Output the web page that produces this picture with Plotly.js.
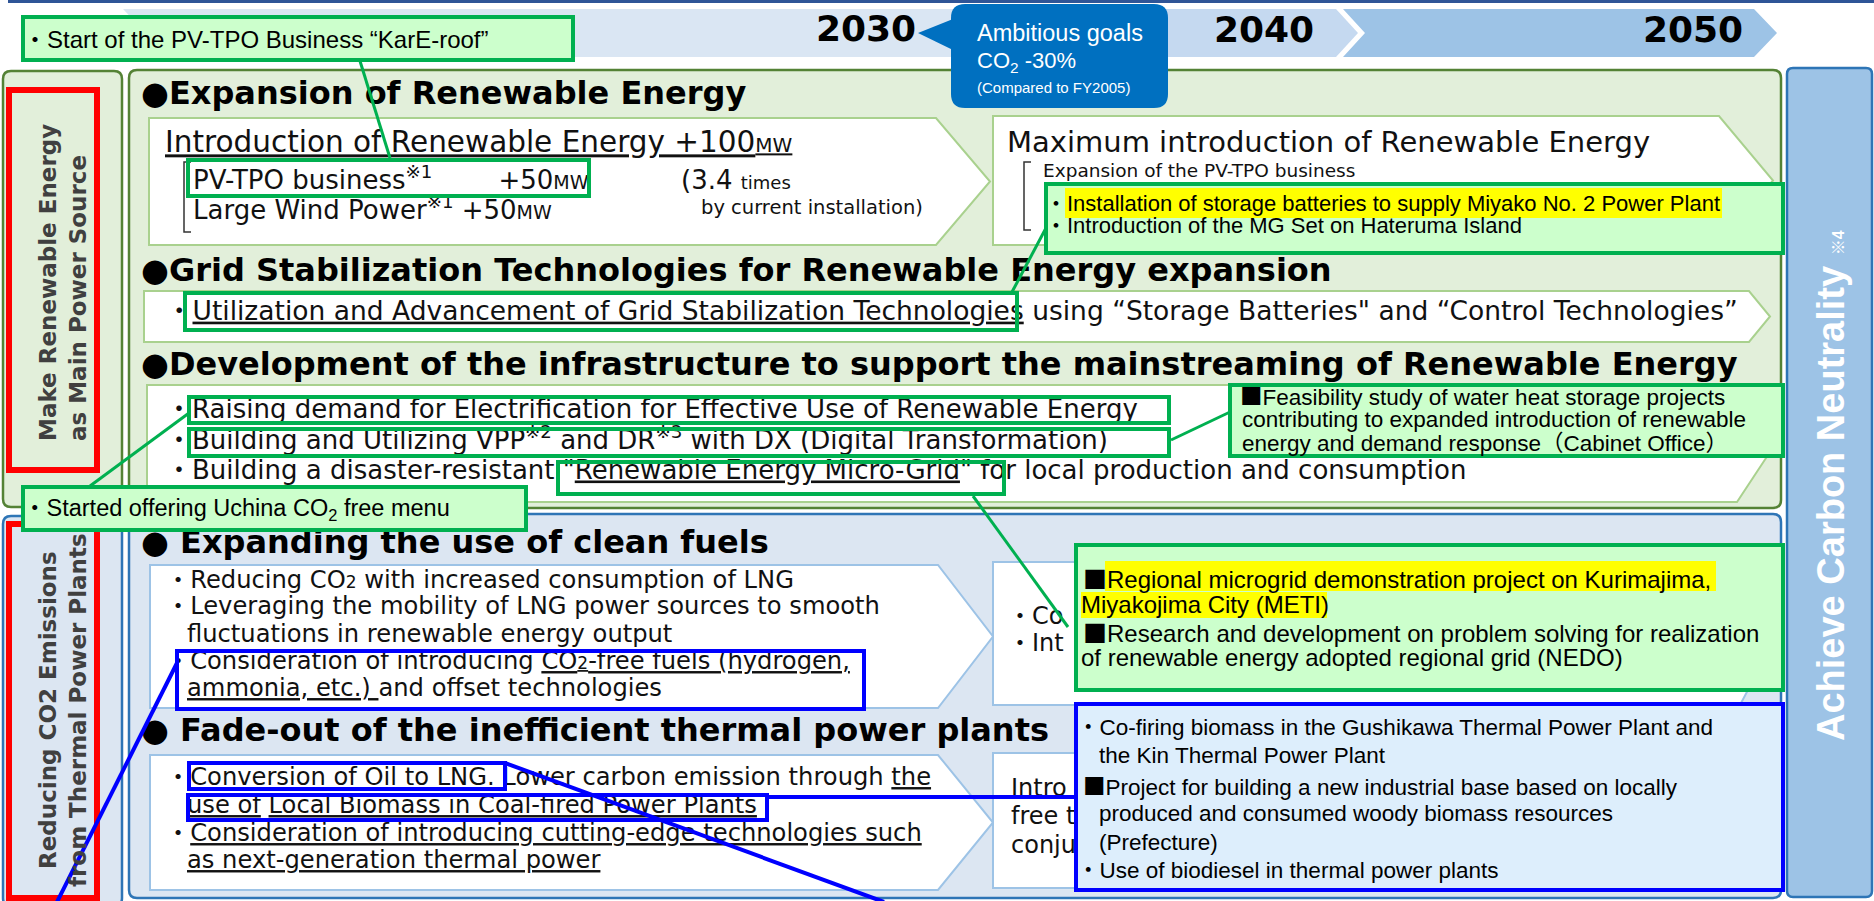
<!DOCTYPE html>
<html><head><meta charset="utf-8">
<script src="https://cdn.plot.ly/plotly-3.0.1.min.js"></script>
<style>html,body{margin:0;padding:0;background:#fff;overflow:hidden}#chart{width:1874px;height:901px}</style>
</head><body><div id="chart"></div>
<script>
// ================= CONTENT (text data) =================
const SQ = '<span style="font-family:Noto Sans CJK JP">■</span>';
const years = ['2030', '2040', '2050'];
const goalText = ['Ambitious goals', 'CO<sub>2</sub> -30%', '(Compared to FY2005)'];
const sideLabels = [
  'Make Renewable Energy<br>as Main Power Source',
  'Reducing CO2 Emissions<br>from Thermal Power Plants',
  'Achieve Carbon Neutrality <span style="font-size:16px">※4</span>'
];
const headings = [
  '●Expansion of Renewable Energy',
  '●Grid Stabilization Technologies for Renewable Energy expansion',
  '●Development of the infrastructure to support the mainstreaming of Renewable Energy',
  '● Expanding the use of clean fuels',
  '● Fade-out of the inefficient thermal power plants'
];
const renewable2030 = [
  '<u>Introduction of Renewable Energy +100<span style="font-size:20px">MW</span></u>',
  'PV-TPO business<sup>※1</sup>\u00a0\u00a0\u00a0\u00a0\u00a0\u00a0\u00a0\u00a0+50<span style="font-size:19px">MW</span>',
  'Large Wind Power<sup>※1</sup>\u00a0+50<span style="font-size:19px">MW</span>',
  '(3.4 <span style="font-size:18px">times</span>',
  'by current installation)'
];
const renewable2040 = ['Maximum introduction of Renewable Energy', 'Expansion of the PV-TPO business'];
const gridLines = ['・<u>Utilization and Advancement of Grid Stabilization Technologies</u> using “Storage Batteries" and “Control Technologies”'];
const infraLines = [
  '・Raising demand for Electrification for Effective Use of Renewable Energy',
  '・Building and Utilizing VPP<sup>※2</sup> and DR<sup>※3</sup> with DX (Digital Transformation)',
  '・Building a disaster-resistant "<u>Renewable Energy Micro-Grid</u>" for local production and consumption'
];
const cleanFuelLines = [
  '・Reducing CO<span style="font-size:17px">2</span> with increased consumption of LNG',
  '・Leveraging the mobility of LNG power sources to smooth',
  'fluctuations in renewable energy output',
  '・Consideration of introducing <u>CO<span style="font-size:17px">2</span>-free fuels (hydrogen,</u>',
  '<u>ammonia, etc.)\u00a0</u>and offset technologies'
];
const cleanFuel2040 = ['・Co', '・Int'];
const fadeOutLines = [
  '・<u>Conversion of Oil to LNG.</u> Lower carbon emission through <u>the</u>',
  '<u>use of</u> <u>Local Biomass in Coal-fired Power Plants</u>',
  '・<u>Consideration of introducing cutting-edge technologies such</u>',
  '<u>as next-generation thermal power</u>'
];
const fadeOut2040 = ['Intro', 'free t', 'conju'];
const noteKarE = ['・Start of the PV-TPO Business “KarE-roof”'];
const noteUchina = ['・Started offering Uchina CO<sub>2</sub> free menu'];
const noteStorage = [
  '・Installation of storage batteries to supply Miyako No. 2 Power Plant',
  '・Introduction of the MG Set on Hateruma Island'
];
const noteHeat = [
  SQ + 'Feasibility study of water heat storage projects',
  'contributing to expanded introduction of renewable',
  'energy and demand response（Cabinet Office）'
];
const noteMicrogrid = [
  SQ + 'Regional microgrid demonstration project on Kurimajima,',
  'Miyakojima City (METI)',
  SQ + 'Research and development on problem solving for realization',
  'of renewable energy adopted regional grid (NEDO)'
];
const noteBiomass = [
  '・Co-firing biomass in the Gushikawa Thermal Power Plant and',
  'the Kin Thermal Power Plant',
  SQ + 'Project for building a new industrial base based on locally',
  'produced and consumed woody biomass resources',
  '(Prefecture)',
  '・Use of biodiesel in thermal power plants'
];

// ================= STYLE / LAYOUT SPEC =================
const F_BODY = 'DejaVu Sans, Noto Sans CJK JP, sans-serif';
const F_BOX = 'Liberation Sans, Arial, Noto Sans CJK JP, sans-serif';
const C = {
  green: '#00b050', greenFill: '#ccffcc', blue: '#0000ff', blueFill: '#ddeefc',
  red: '#ff0000', panelG: '#e2efda', panelGLine: '#548235', panelB: '#dce6f2', panelBLine: '#2e75b6',
  boxGLine: '#a9d18e', boxBLine: '#9dc3e6', yellow: '#ffff00', callout: '#0070c0'
};
function rr(x0, y0, x1, y1, r) {
  return `M${x0+r},${y0} L${x1-r},${y0} Q${x1},${y0} ${x1},${y0+r} L${x1},${y1-r} Q${x1},${y1} ${x1-r},${y1} L${x0+r},${y1} Q${x0},${y1} ${x0},${y1-r} L${x0},${y0+r} Q${x0},${y0} ${x0+r},${y0} Z`;
}
function chev(x0, y0, x1, tip, y1, tipY) {
  const ty = tipY === undefined ? (y0 + y1) / 2 : tipY;
  return `M${x0},${y0} L${x1},${y0} L${tip},${ty} L${x1},${y1} L${x0},${y1} Z`;
}
const pathS = (p, fill, line, w, layer) => ({type:'path', path:p, fillcolor:fill||'rgba(0,0,0,0)', line:{color:line||'rgba(0,0,0,0)', width:line?w:0}, layer:layer||'below', xref:'x', yref:'y'});
const rectS = (x0, y0, x1, y1, fill, line, w, layer) => ({type:'rect', x0, y0, x1, y1, fillcolor:fill||'rgba(0,0,0,0)', line:{color:line||'rgba(0,0,0,0)', width:line?w:0}, layer:layer||'above', xref:'x', yref:'y'});
const lineS = (x0, y0, x1, y1, color, w) => ({type:'line', x0, y0, x1, y1, line:{color, width:w}, layer:'above', xref:'x', yref:'y'});

const shapes = [
  lineS(8, 1.5, 1874, 1.5, '#2f5597', 3),
  // timeline chevrons
  pathS('M123,9 L955,9 L978,33 L955,57 L123,57 L146,33 Z', '#dae6f3'),
  pathS('M955,9 L1336,9 L1358,33 L1336,57 L955,57 Z', '#c5d9f0'),
  pathS('M1343,9 L1754,9 L1777,33 L1754,57 L1343,57 L1365,33 Z', '#9dc3e6'),
  // panels
  pathS(rr(129, 70, 1781, 508, 8), C.panelG, C.panelGLine, 2.5),
  pathS(rr(129, 514, 1781, 898, 8), C.panelB, C.panelBLine, 2.5),
  pathS(rr(3, 71, 122, 507, 8), C.panelG, C.panelGLine, 2.5),
  pathS(rr(3, 516, 122, 906, 8), C.panelB, C.panelBLine, 2.5),
  pathS(rr(1787, 68, 1872, 897, 6), '#9dc3e6', C.panelBLine, 2.5),
  // white content boxes (upper)
  pathS(chev(149, 118, 936, 990, 245), '#fff', C.boxGLine, 2),
  pathS(chev(993, 116, 1719, 1773, 245), '#fff', C.boxGLine, 2),
  pathS(chev(144, 291, 1749, 1770, 342), '#fff', C.boxGLine, 2),
  pathS(chev(147, 385, 1737, 1770, 502, 452), '#fff', C.boxGLine, 2),
  // white content boxes (lower)
  pathS(chev(150, 565, 938, 993, 708), '#fff', C.boxBLine, 2),
  pathS(chev(993, 562, 1740, 1778, 705), '#fff', C.boxBLine, 2),
  pathS(chev(150, 755, 938, 993, 890), '#fff', C.boxBLine, 2),
  pathS(chev(993, 753, 1740, 1778, 888), '#fff', C.boxBLine, 2),
  // brackets
  pathS('M191,162 L184,162 L184,232 L191,232', null, '#333', 1.5),
  pathS('M1031,162 L1024,162 L1024,230 L1031,230', null, '#333', 1.5),
  // red frames
  rectS(9, 90, 97, 470, null, C.red, 6),
  rectS(9, 524, 97, 898, null, C.red, 6),
  // 2030 goal callout
  pathS(rr(951, 4, 1168, 108, 14), C.callout, null, 0, 'above'),
  pathS('M953,19 L918,33 L953,50 Z', C.callout, null, 0, 'above'),
  // green notes and links
  rectS(23, 17, 573, 60, C.greenFill, C.green, 4),
  lineS(360, 61, 390, 158, C.green, 3),
  rectS(188, 160, 589, 196, null, C.green, 4),
  rectS(1046, 184, 1783, 253, C.greenFill, C.green, 4),
  rectS(1065, 188, 1722, 218, C.yellow, null, 0),
  lineS(1046, 228, 1012, 292, C.green, 3),
  rectS(185, 293, 1017, 330, null, C.green, 4),
  rectS(189, 397, 1169, 423, null, C.green, 4),
  rectS(189, 429, 1169, 456, null, C.green, 4),
  rectS(558, 462, 1004, 494, null, C.green, 4),
  lineS(189, 413, 90, 486, C.green, 3),
  rectS(23, 487, 526, 530, C.greenFill, C.green, 4),
  lineS(1171, 440, 1230, 412, C.green, 3),
  rectS(1230, 385, 1783, 456, C.greenFill, C.green, 4),
  lineS(973, 496, 1068, 627, C.green, 3),
  rectS(1076, 545, 1783, 690, C.greenFill, C.green, 4),
  rectS(1105, 561, 1716, 591, C.yellow, null, 0),
  rectS(1081, 592, 1327, 618, C.yellow, null, 0),
  // blue notes and links
  rectS(1076, 704, 1783, 890, C.blueFill, C.blue, 4),
  rectS(177, 651, 864, 709, null, C.blue, 4),
  rectS(189, 763, 505, 789, null, C.blue, 4),
  rectS(188, 795, 767, 820, null, C.blue, 4),
  lineS(177, 663, 57, 902, C.blue, 4),
  lineS(505, 763, 884, 902, C.blue, 4),
  lineS(769, 797, 1076, 797, C.blue, 4)
];

// text groups rendered as traces (below the 'above' shapes)
const rep = (v, n) => Array.isArray(v) ? v : Array(n).fill(v);
function T(lines, g) {
  const n = lines.length;
  return {type:'scatter', mode:'text', x:rep(g.x, n), y:rep(g.y, n), text:lines,
    textposition:g.pos || 'middle right',
    textfont:{family:g.family || F_BODY, size:rep(g.size, n), color:g.color || '#111', weight:g.weight || 'normal'},
    hoverinfo:'skip', cliponaxis:false, showlegend:false};
}
const traces = [
  T(years, {x:[866, 1264, 1693], y:[32, 33, 33], size:36, weight:'bold', pos:'middle center', color:'#000'}),
  T(headings, {x:141, y:[96, 273, 367, 545, 733], size:32, weight:'bold', color:'#000'}),
  T(renewable2030, {x:[165, 193, 193, 681, 701], y:[145, 182, 212, 182, 209], size:[29.5, 26, 26, 26, 19.5]}),
  T(renewable2040, {x:[1007, 1043], y:[145, 172], size:[29, 18.5]}),
  T(gridLines, {x:166, y:313, size:26.5}),
  T(infraLines, {x:166, y:[411, 442, 472], size:26}),
  T(cleanFuelLines, {x:[166, 166, 187, 166, 187], y:[582, 608, 636, 663, 690], size:24.2}),
  T(cleanFuel2040, {x:1008, y:[618, 645], size:24}),
  T(fadeOutLines, {x:[166, 187, 166, 187], y:[779, 807, 835, 862], size:24.2}),
  T(fadeOut2040, {x:1011, y:[790, 818, 847], size:24})
];

// annotation text (on top of note boxes)
function A(lines, g) {
  return lines.map((t, i) => ({x:rep(g.x, lines.length)[i], y:rep(g.y, lines.length)[i], xref:'x', yref:'y',
    text:t, showarrow:false, xanchor:g.xanchor || 'left', yanchor:'middle', align:g.align || 'left',
    textangle:g.angle || 0,
    font:{family:g.family || F_BOX, size:rep(g.size, lines.length)[i], color:g.color || '#000', weight:g.weight || 'normal'}}));
}
const annotations = [].concat(
  A(goalText, {x:975, y:[33, 62, 87], size:[23.5, 22, 15], color:'#fff'}),
  A(noteKarE, {x:21, y:39, size:24}),
  A(noteUchina, {x:21, y:509, size:23.5}),
  A(noteStorage, {x:1043, y:[203, 225], size:22}),
  A(noteHeat, {x:[1238, 1240, 1240], y:[395, 419, 443], size:22.5}),
  A(noteMicrogrid, {x:[1081, 1079, 1081, 1079], y:[577, 604, 631, 657], size:24}),
  A(noteBiomass, {x:[1075, 1097, 1081, 1097, 1097, 1075], y:[727, 755, 785, 813, 842, 870], size:22.5}),
  A([sideLabels[0]], {x:63, y:283, angle:-90, xanchor:'center', align:'left', family:F_BODY, size:23, weight:'bold', color:'#404040'}),
  A([sideLabels[1]], {x:63, y:710, angle:-90, xanchor:'center', align:'center', family:F_BODY, size:23, weight:'bold', color:'#404040'}),
  A([sideLabels[2]], {x:1831, y:486, angle:-90, xanchor:'center', align:'center', size:38, weight:'bold', color:'#fff'})
);

const layout = {
  width:1874, height:901, margin:{l:0, r:0, t:0, b:0},
  paper_bgcolor:'#fff', plot_bgcolor:'#fff', showlegend:false,
  xaxis:{range:[0, 1874], visible:false, fixedrange:true},
  yaxis:{range:[901, 0], visible:false, fixedrange:true},
  shapes, annotations
};
Plotly.newPlot('chart', traces, layout, {staticPlot:true, displayModeBar:false});
</script></body></html>
